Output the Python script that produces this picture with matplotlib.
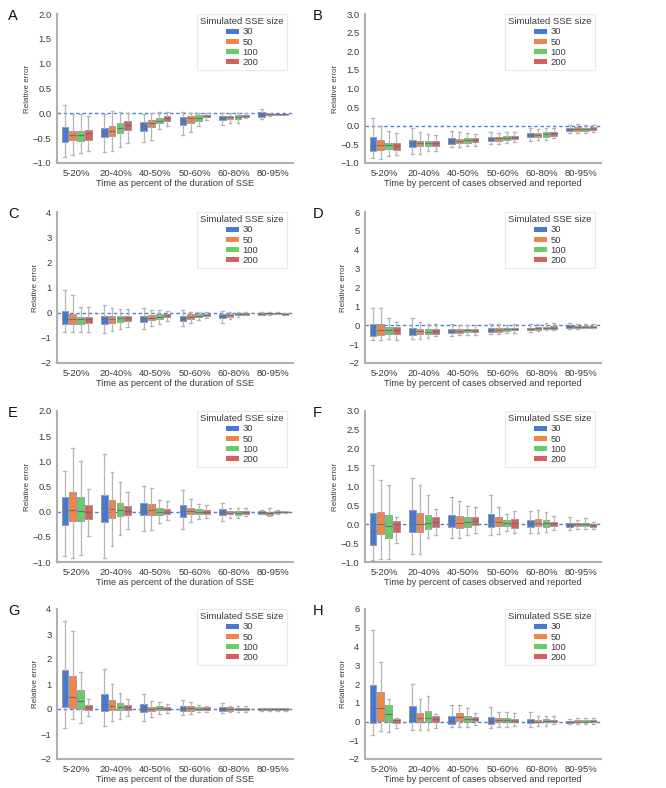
import matplotlib
matplotlib.use("Agg")
import matplotlib.pyplot as plt
from matplotlib.patches import Patch
import numpy as np

plt.rcParams['font.family'] = ['Liberation Sans', 'DejaVu Sans']

# categories and series
categories = ["5-20%", "20-40%", "40-50%", "50-60%", "60-80%", "80-95%"]
sizes = ["30", "50", "100", "200"]
colors = ["#4878d0", "#ee854a", "#6acc64", "#d65f5f"]

# box stats per panel: rows = categories, cols = SSE size (30, 50, 100, 200)
A_hi = [[0.17, -0.01, -0.01, -0.05], [-0.01, 0.04, 0.02, 0.0], [-0.01, 0.0, 0.02, 0.02],
        [0.03, 0.01, 0.01, 0.0], [0.0, 0.01, 0.01, 0.0], [0.09, 0.0, -0.01, -0.01]]
A_q3 = [[-0.27, -0.35, -0.35, -0.33], [-0.29, -0.26, -0.2, -0.15], [-0.18, -0.13, -0.09, -0.06],
        [-0.08, -0.05, -0.03, -0.03], [-0.05, -0.05, -0.04, -0.03], [0.02, 0.0, -0.01, -0.015]]
A_med = [[-0.38, -0.43, -0.43, -0.4], [-0.38, -0.35, -0.3, -0.23], [-0.25, -0.2, -0.15, -0.09],
         [-0.15, -0.1, -0.1, -0.05], [-0.08, -0.08, -0.07, -0.05], [-0.03, -0.02, -0.02, -0.02]]
A_q1 = [[-0.57, -0.53, -0.55, -0.53], [-0.48, -0.45, -0.4, -0.33], [-0.35, -0.28, -0.2, -0.15],
        [-0.23, -0.2, -0.15, -0.08], [-0.13, -0.12, -0.11, -0.07], [-0.07, -0.03, -0.03, -0.025]]
A_lo = [[-0.88, -0.83, -0.8, -0.75], [-0.77, -0.75, -0.67, -0.6], [-0.57, -0.53, -0.31, -0.25],
        [-0.43, -0.38, -0.25, -0.13], [-0.23, -0.2, -0.19, -0.1], [-0.11, -0.05, -0.04, -0.03]]

B_hi = [[0.22, 0.0, -0.15, -0.2], [-0.06, -0.18, -0.22, -0.24], [-0.13, -0.18, -0.2, -0.22],
        [-0.18, -0.2, -0.18, -0.16], [-0.07, -0.09, -0.06, -0.06], [0.03, 0.06, 0.03, 0.02]]
B_q3 = [[-0.31, -0.38, -0.45, -0.46], [-0.38, -0.4, -0.4, -0.4], [-0.34, -0.36, -0.34, -0.34],
        [-0.29, -0.29, -0.28, -0.27], [-0.2, -0.19, -0.18, -0.18], [-0.05, -0.04, -0.05, -0.04]]
B_med = [[-0.54, -0.51, -0.51, -0.55], [-0.47, -0.47, -0.47, -0.46], [-0.4, -0.4, -0.38, -0.38],
         [-0.35, -0.34, -0.33, -0.3], [-0.25, -0.24, -0.22, -0.2], [-0.1, -0.09, -0.1, -0.08]]
B_q1 = [[-0.67, -0.64, -0.63, -0.64], [-0.58, -0.55, -0.55, -0.54], [-0.49, -0.47, -0.45, -0.43],
        [-0.42, -0.4, -0.38, -0.36], [-0.31, -0.29, -0.29, -0.27], [-0.15, -0.13, -0.14, -0.12]]
B_lo = [[-0.87, -0.89, -0.8, -0.78], [-0.76, -0.76, -0.69, -0.67], [-0.58, -0.56, -0.54, -0.54],
        [-0.49, -0.49, -0.45, -0.43], [-0.4, -0.38, -0.37, -0.34], [-0.2, -0.19, -0.2, -0.18]]

C_hi = [[0.89, 0.69, 0.24, 0.21], [0.29, 0.2, 0.16, 0.13], [0.17, 0.1, 0.1, 0.07],
        [0.1, 0.04, 0.03, 0.03], [0.05, 0.04, 0.01, 0.01], [0.04, 0.04, 0.02, 0.0]]
C_q3 = [[0.07, -0.04, -0.16, -0.16], [-0.13, -0.13, -0.13, -0.13], [-0.13, -0.1, -0.07, -0.05],
        [-0.13, -0.07, -0.05, -0.04], [-0.05, -0.04, -0.01, -0.01], [0.0, 0.0, -0.01, -0.03]]
C_med = [[-0.24, -0.24, -0.27, -0.27], [-0.24, -0.24, -0.23, -0.2], [-0.2, -0.2, -0.16, -0.11],
         [-0.23, -0.16, -0.12, -0.08], [-0.13, -0.09, -0.05, -0.04], [-0.04, -0.03, -0.03, -0.05]]
C_q1 = [[-0.47, -0.44, -0.44, -0.43], [-0.44, -0.4, -0.36, -0.33], [-0.36, -0.3, -0.25, -0.19],
        [-0.33, -0.24, -0.19, -0.13], [-0.23, -0.16, -0.11, -0.08], [-0.08, -0.06, -0.05, -0.08]]
C_lo = [[-0.76, -0.77, -0.76, -0.76], [-0.8, -0.73, -0.64, -0.56], [-0.63, -0.53, -0.44, -0.33],
        [-0.53, -0.4, -0.3, -0.21], [-0.4, -0.27, -0.17, -0.11], [-0.09, -0.08, -0.07, -0.11]]

D_hi = [[0.94, 0.89, 0.37, 0.18], [0.36, 0.18, 0.05, 0.05], [0.09, 0.0, 0.02, 0.02],
        [0.05, 0.05, 0.02, 0.05], [0.05, 0.09, 0.11, 0.12], [0.12, 0.05, 0.05, 0.05]]
D_q3 = [[0.09, 0.05, -0.09, -0.09], [-0.12, -0.18, -0.21, -0.18], [-0.18, -0.21, -0.18, -0.18],
        [-0.16, -0.12, -0.16, -0.12], [-0.12, -0.09, -0.09, -0.04], [0.02, -0.02, -0.02, -0.02]]
D_med = [[-0.3, -0.27, -0.27, -0.27], [-0.3, -0.3, -0.34, -0.3], [-0.3, -0.28, -0.27, -0.28],
         [-0.27, -0.23, -0.21, -0.2], [-0.18, -0.16, -0.12, -0.12], [-0.05, -0.07, -0.07, -0.07]]
D_q1 = [[-0.57, -0.51, -0.48, -0.48], [-0.51, -0.48, -0.48, -0.44], [-0.41, -0.39, -0.36, -0.37],
        [-0.37, -0.36, -0.3, -0.27], [-0.27, -0.23, -0.21, -0.18], [-0.12, -0.12, -0.12, -0.12]]
D_lo = [[-0.8, -0.8, -0.75, -0.8], [-0.73, -0.71, -0.66, -0.59], [-0.57, -0.53, -0.51, -0.51],
        [-0.48, -0.48, -0.43, -0.39], [-0.34, -0.3, -0.27, -0.27], [-0.18, -0.18, -0.16, -0.16]]

E_hi = [[0.81, 1.26, 1.01, 0.45], [1.15, 0.79, 0.59, 0.4], [0.51, 0.47, 0.23, 0.22],
        [0.43, 0.25, 0.15, 0.13], [0.17, 0.08, 0.07, 0.07], [0.03, 0.07, 0.04, 0.02]]
E_q3 = [[0.3, 0.39, 0.3, 0.13], [0.34, 0.24, 0.18, 0.11], [0.17, 0.16, 0.07, 0.06],
        [0.13, 0.07, 0.05, 0.03], [0.05, 0.01, 0.01, 0.01], [0.01, 0.0, 0.02, 0.005]]
E_med = [[0.01, 0.03, 0.01, 0.0], [0.07, 0.05, 0.03, 0.01], [0.03, 0.03, 0.0, 0.0],
         [0.01, 0.01, 0.0, 0.0], [0.0, -0.02, -0.03, 0.0], [-0.01, -0.03, 0.0, -0.005]]
E_q1 = [[-0.26, -0.18, -0.18, -0.14], [-0.2, -0.12, -0.09, -0.07], [-0.07, -0.07, -0.07, -0.05],
        [-0.11, -0.05, -0.05, -0.05], [-0.07, -0.05, -0.07, -0.04], [-0.04, -0.07, -0.03, -0.015]]
E_lo = [[-0.89, -0.93, -0.86, -0.49], [-0.93, -0.68, -0.46, -0.34], [-0.39, -0.36, -0.22, -0.17],
        [-0.35, -0.21, -0.14, -0.12], [-0.19, -0.13, -0.12, -0.09], [-0.05, -0.09, -0.04, -0.02]]

F_hi = [[1.58, 1.18, 1.05, 0.2], [1.22, 1.05, 0.78, 0.4], [0.71, 0.62, 0.49, 0.45],
        [0.78, 0.47, 0.27, 0.34], [0.34, 0.38, 0.32, 0.23], [0.18, 0.11, 0.16, 0.07]]
F_q3 = [[0.29, 0.32, 0.24, 0.09], [0.38, 0.29, 0.24, 0.2], [0.25, 0.23, 0.2, 0.18],
        [0.28, 0.2, 0.11, 0.13], [0.11, 0.13, 0.11, 0.07], [0.04, 0.03, 0.04, 0.0]]
F_med = [[-0.18, 0.0, -0.04, 0.0], [0.03, 0.0, 0.04, 0.07], [0.12, 0.04, 0.07, 0.09],
         [0.09, 0.07, 0.02, 0.02], [0.02, 0.04, 0.02, 0.02], [-0.02, 0.0, 0.0, -0.03]]
F_q1 = [[-0.56, -0.27, -0.36, -0.2], [-0.2, -0.21, -0.12, -0.07], [-0.06, -0.09, -0.06, -0.03],
        [-0.07, -0.05, -0.05, -0.09], [-0.06, -0.05, -0.06, -0.05], [-0.07, -0.04, -0.04, -0.06]]
F_lo = [[-0.94, -0.92, -0.92, -0.49], [-0.8, -0.78, -0.36, -0.29], [-0.36, -0.36, -0.29, -0.22],
        [-0.29, -0.25, -0.18, -0.22], [-0.22, -0.22, -0.2, -0.16], [-0.16, -0.12, -0.13, -0.12]]

G_hi = [[3.53, 3.11, 1.48, 0.41], [1.61, 1.01, 0.64, 0.4], [0.61, 0.31, 0.27, 0.21],
        [0.37, 0.29, 0.16, 0.13], [0.23, 0.13, 0.12, 0.12], [0.05, 0.05, 0.05, 0.05]]
G_q3 = [[1.57, 1.32, 0.75, 0.15], [0.61, 0.37, 0.23, 0.15], [0.19, 0.09, 0.11, 0.07],
        [0.13, 0.11, 0.07, 0.07], [0.08, 0.07, 0.05, 0.05], [0.03, 0.03, 0.03, 0.03]]
G_med = [[0.48, 0.48, 0.31, 0.08], [0.2, 0.13, 0.1, 0.07], [0.01, 0.01, 0.04, 0.01],
         [0.03, 0.03, 0.02, 0.02], [0.0, 0.0, 0.0, 0.01], [-0.01, -0.01, -0.01, -0.01]]
G_q1 = [[0.07, 0.03, 0.0, -0.03], [-0.07, -0.03, -0.03, -0.03], [-0.12, -0.07, -0.05, -0.05],
        [-0.09, -0.07, -0.04, -0.04], [-0.08, -0.07, -0.05, -0.04], [-0.04, -0.04, -0.04, -0.04]]
G_lo = [[-0.76, -0.39, -0.56, -0.29], [-0.67, -0.49, -0.4, -0.29], [-0.47, -0.32, -0.2, -0.16],
        [-0.24, -0.2, -0.13, -0.12], [-0.17, -0.13, -0.12, -0.1], [-0.07, -0.07, -0.07, -0.07]]

H_hi = [[4.9, 3.16, 1.2, 0.2], [2.02, 1.18, 1.34, 0.39], [0.88, 0.9, 0.7, 0.48],
        [0.75, 0.5, 0.5, 0.45], [0.5, 0.3, 0.3, 0.27], [0.14, 0.21, 0.18, 0.18]]
H_q3 = [[1.95, 1.55, 0.89, 0.12], [0.84, 0.45, 0.54, 0.27], [0.27, 0.45, 0.27, 0.23],
        [0.25, 0.18, 0.18, 0.16], [0.14, 0.09, 0.12, 0.09], [0.05, 0.07, 0.07, 0.09]]
H_med = [[0.71, 0.71, 0.38, 0.07], [0.34, 0.18, 0.21, 0.16], [0.02, 0.25, 0.13, 0.13],
         [0.04, 0.09, 0.07, 0.05], [0.04, 0.0, 0.04, 0.04], [0.0, 0.0, 0.0, 0.02]]
H_q1 = [[-0.09, 0.02, 0.0, -0.07], [0.0, -0.05, 0.0, 0.0], [-0.14, 0.02, -0.05, 0.02],
        [-0.14, -0.04, -0.04, -0.04], [-0.09, -0.05, -0.05, -0.04], [-0.07, -0.05, -0.05, -0.05]]
H_lo = [[-0.73, -0.48, -0.55, -0.36], [-0.45, -0.46, -0.43, -0.32], [-0.28, -0.3, -0.27, -0.18],
        [-0.36, -0.27, -0.27, -0.23], [-0.27, -0.23, -0.22, -0.14], [-0.14, -0.14, -0.14, -0.14]]

xlabel_left = "Time as percent of the duration of SSE"
xlabel_right = "Time by percent of cases observed and reported"

panels = [
    ("A", A_lo, A_q1, A_med, A_q3, A_hi, (-1, 2), 0.5, xlabel_left),
    ("B", B_lo, B_q1, B_med, B_q3, B_hi, (-1, 3), 0.5, xlabel_right),
    ("C", C_lo, C_q1, C_med, C_q3, C_hi, (-2, 4), 1, xlabel_left),
    ("D", D_lo, D_q1, D_med, D_q3, D_hi, (-2, 6), 1, xlabel_right),
    ("E", E_lo, E_q1, E_med, E_q3, E_hi, (-1, 2), 0.5, xlabel_left),
    ("F", F_lo, F_q1, F_med, F_q3, F_hi, (-1, 3), 0.5, xlabel_right),
    ("G", G_lo, G_q1, G_med, G_q3, G_hi, (-2, 4), 1, xlabel_left),
    ("H", H_lo, H_q1, H_med, H_q3, H_hi, (-2, 6), 1, xlabel_right),
]

W, H = 666, 788
fig = plt.figure(figsize=(W / 100, H / 100), dpi=100)

# axes boxes in pixels (left, right) and (top, bottom)
col_x = [(57, 293), (365, 601)]
row_y = [(14, 163), (212, 363), (411, 562), (609, 759)]
letter_x = [8, 313]

text_col = "#3a3a3a"
spine_col = "#b0b0b0"
fs = 6.8
offsets = [-0.3, -0.1, 0.1, 0.3]

for k, (letter, lo, q1, med, q3, hi, ylim, step, xlabel) in enumerate(panels):
    r, c = divmod(k, 2)
    x0, x1 = col_x[c]
    y0, y1 = row_y[r]
    ax = fig.add_axes([x0 / W, 1 - y1 / H, (x1 - x0) / W, (y1 - y0) / H])

    ax.axhline(0, color="#4f7fd4", lw=1, ls=(0, (2.5, 2)), zorder=1)

    for j in range(len(sizes)):
        stats = []
        for i in range(len(categories)):
            stats.append(dict(whislo=lo[i][j], q1=q1[i][j], med=med[i][j],
                              q3=q3[i][j], whishi=hi[i][j], fliers=[]))
        pos = np.arange(len(categories)) + offsets[j]
        ax.bxp(stats, positions=pos, widths=0.17, patch_artist=True,
               showfliers=False, manage_ticks=False,
               boxprops=dict(facecolor=colors[j], edgecolor="#8a8a8a", linewidth=0.5),
               medianprops=dict(color="#707070", linewidth=0.8),
               whiskerprops=dict(color="#b5b5b5", linewidth=0.9),
               capprops=dict(color="#b5b5b5", linewidth=0.9),
               capwidths=0.07, zorder=2)

    ax.set_xlim(-0.5, len(categories) - 0.5)
    ax.set_ylim(*ylim)
    yt = np.arange(ylim[0], ylim[1] + step / 2, step)
    ax.set_yticks(yt)
    if step < 1:
        ax.set_yticklabels([f"{v:.1f}".replace("-", "\u2212") for v in yt])
    else:
        ax.set_yticklabels([f"{int(v)}".replace("-", "\u2212") for v in yt])
    ax.set_xticks(np.arange(len(categories)))
    ax.set_xticklabels(categories)
    ax.tick_params(length=0, labelsize=fs, colors=text_col, pad=4)
    ax.set_xlabel(xlabel, fontsize=6.6, color=text_col, labelpad=1)
    ax.set_ylabel("Relative error", fontsize=5.8, color=text_col, labelpad=1)

    for s in ["top", "right"]:
        ax.spines[s].set_visible(False)
    for s in ["left", "bottom"]:
        ax.spines[s].set_color(spine_col)
        ax.spines[s].set_linewidth(1.5)

    handles = [Patch(facecolor=colors[j], edgecolor="none", label=sizes[j]) for j in range(len(sizes))]
    leg = ax.legend(handles=handles, title="Simulated SSE size", loc="upper right",
                    bbox_to_anchor=(0.975, 1.0), borderaxespad=0, fontsize=fs, title_fontsize=fs,
                    handlelength=1.4, handleheight=0.45, handletextpad=0.4,
                    labelspacing=0.12, borderpad=0.35, frameon=True, fancybox=False)
    leg.get_frame().set_edgecolor("#e3e3e3")
    leg.get_frame().set_linewidth(0.8)
    leg._legend_box.align = "center"
    for t in leg.get_texts():
        t.set_color(text_col)
    leg.get_title().set_color(text_col)

    fig.text(letter_x[c] / W, 1 - (y0 + 2) / H, letter, fontsize=10.5, color="#111111",
             ha="left", va="center")

fig.savefig("out.png", dpi=100, facecolor="white")
